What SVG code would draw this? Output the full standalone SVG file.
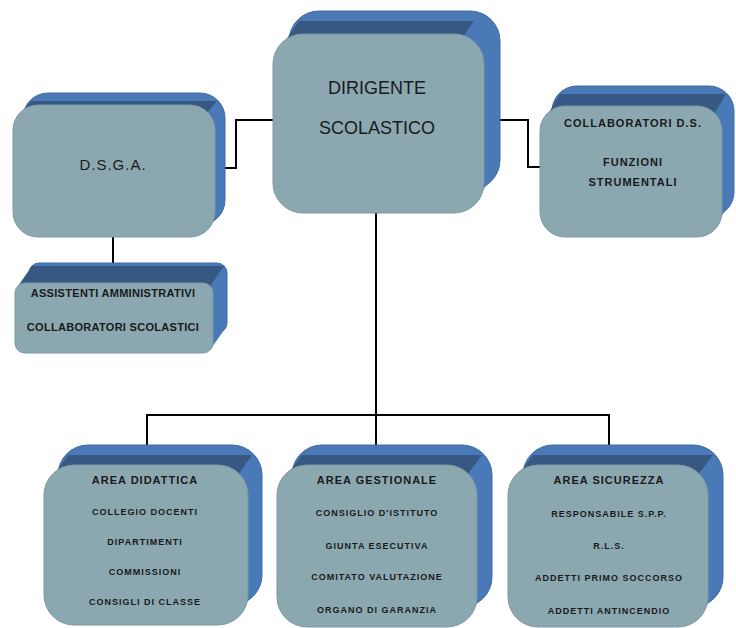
<svg xmlns="http://www.w3.org/2000/svg" width="736" height="628" viewBox="0 0 736 628">
<style>
.side{fill:#4a79b8;stroke:#3f6aa3;stroke-width:1}
.sidep{fill:#4a79b8}
.top{fill:#365883}
.front{fill:#8ba8b1;stroke:#7d99a3;stroke-width:1}
.conn{fill:none;stroke:#000;stroke-width:2}
text{font-family:"Liberation Sans",Arial,sans-serif;fill:#1a1a1a;text-anchor:middle}
.big{font-size:18px}
.mid{font-size:15px;letter-spacing:1px}
.sm{font-size:11px;font-weight:bold;letter-spacing:1px}
.hd{font-size:11px;font-weight:bold;letter-spacing:1px}
.it{font-size:9px;font-weight:bold;letter-spacing:1px}
</style>
<rect width="736" height="628" fill="#fff"/>
<g id="connectors">
<polyline class="conn" points="273,120 236,120 236,168 223,168"/>
<polyline class="conn" points="500,120 528,120 528,167 540,167"/>
<line class="conn" x1="113" y1="237" x2="113" y2="264"/>
<line class="conn" x1="376" y1="213" x2="376" y2="445"/>
<polyline class="conn" points="147,446 147,415 609,415 609,446"/>
</g>
<g id="dirigente">
<rect class="side" x="289" y="11" width="211" height="179" rx="30"/>
<polygon class="sidep" points="474,44 490,21 490,180 474,203"/>
<polygon class="top" points="283,44 299,21 474,21 458,44"/>
<rect class="front" x="273" y="34" width="211" height="179" rx="30"/>
<text class="big" x="377" y="94">DIRIGENTE</text>
<text class="big" x="377" y="134">SCOLASTICO</text>
</g>
<g id="dsga">
<rect class="side" x="23" y="93" width="202" height="132" rx="25"/>
<polygon class="sidep" points="207,113 217,101 217,217 207,229"/>
<polygon class="top" points="21,113 31,101 217,101 207,113"/>
<rect class="front" x="13" y="105" width="202" height="132" rx="25"/>
<text class="mid" x="113" y="170">D.S.G.A.</text>
</g>
<g id="collaboratori">
<rect class="side" x="552" y="86" width="182" height="131" rx="25"/>
<polygon class="sidep" points="714,114 726,94 726,209 714,229"/>
<polygon class="top" points="548,114 560,94 726,94 714,114"/>
<rect class="front" x="540" y="106" width="182" height="131" rx="25"/>
<text class="sm" x="633" y="127">COLLABORATORI D.S.</text>
<text class="sm" x="633" y="166">FUNZIONI</text>
<text class="sm" x="633" y="186">STRUMENTALI</text>
</g>
<g id="assistenti">
<rect class="side" x="29" y="263" width="198" height="70" rx="10"/>
<polygon class="sidep" points="210,286 224,266 224,330 210,350"/>
<polygon class="top" points="18,286 32,266 224,266 210,286"/>
<rect class="front" x="15" y="283" width="198" height="70" rx="10"/>
<text class="sm" x="113" y="297" style="letter-spacing:0.3px">ASSISTENTI AMMINISTRATIVI</text>
<text class="sm" x="113" y="331" style="letter-spacing:0.3px">COLLABORATORI SCOLASTICI</text>
</g>
<g id="area-didattica">
<rect class="side" x="58" y="445" width="204" height="160" rx="30"/>
<polygon class="sidep" points="238,475 252,455 252,595 238,615"/>
<polygon class="top" points="54,475 68,455 252,455 238,475"/>
<rect class="front" x="44" y="465" width="204" height="160" rx="30"/>
<text class="hd" x="145" y="484">AREA DIDATTICA</text>
<text class="it" x="145" y="515">COLLEGIO DOCENTI</text>
<text class="it" x="145" y="545">DIPARTIMENTI</text>
<text class="it" x="145" y="575">COMMISSIONI</text>
<text class="it" x="145" y="605">CONSIGLI DI CLASSE</text>
</g>
<g id="area-gestionale">
<rect class="side" x="292" y="445" width="200" height="162" rx="30"/>
<polygon class="sidep" points="467,475 482,455 482,597 467,617"/>
<polygon class="top" points="287,475 302,455 482,455 467,475"/>
<rect class="front" x="277" y="465" width="200" height="162" rx="30"/>
<text class="hd" x="377" y="484">AREA GESTIONALE</text>
<text class="it" x="377" y="516">CONSIGLIO D'ISTITUTO</text>
<text class="it" x="377" y="549">GIUNTA ESECUTIVA</text>
<text class="it" x="377" y="580">COMITATO VALUTAZIONE</text>
<text class="it" x="377" y="613">ORGANO DI GARANZIA</text>
</g>
<g id="area-sicurezza">
<rect class="side" x="523" y="445" width="200" height="162" rx="30"/>
<polygon class="sidep" points="698,475 713,455 713,597 698,617"/>
<polygon class="top" points="518,475 533,455 713,455 698,475"/>
<rect class="front" x="508" y="465" width="200" height="162" rx="30"/>
<text class="hd" x="609" y="484">AREA SICUREZZA</text>
<text class="it" x="609" y="517">RESPONSABILE S.P.P.</text>
<text class="it" x="609" y="549">R.L.S.</text>
<text class="it" x="609" y="581">ADDETTI PRIMO SOCCORSO</text>
<text class="it" x="609" y="614">ADDETTI ANTINCENDIO</text>
</g>
</svg>
